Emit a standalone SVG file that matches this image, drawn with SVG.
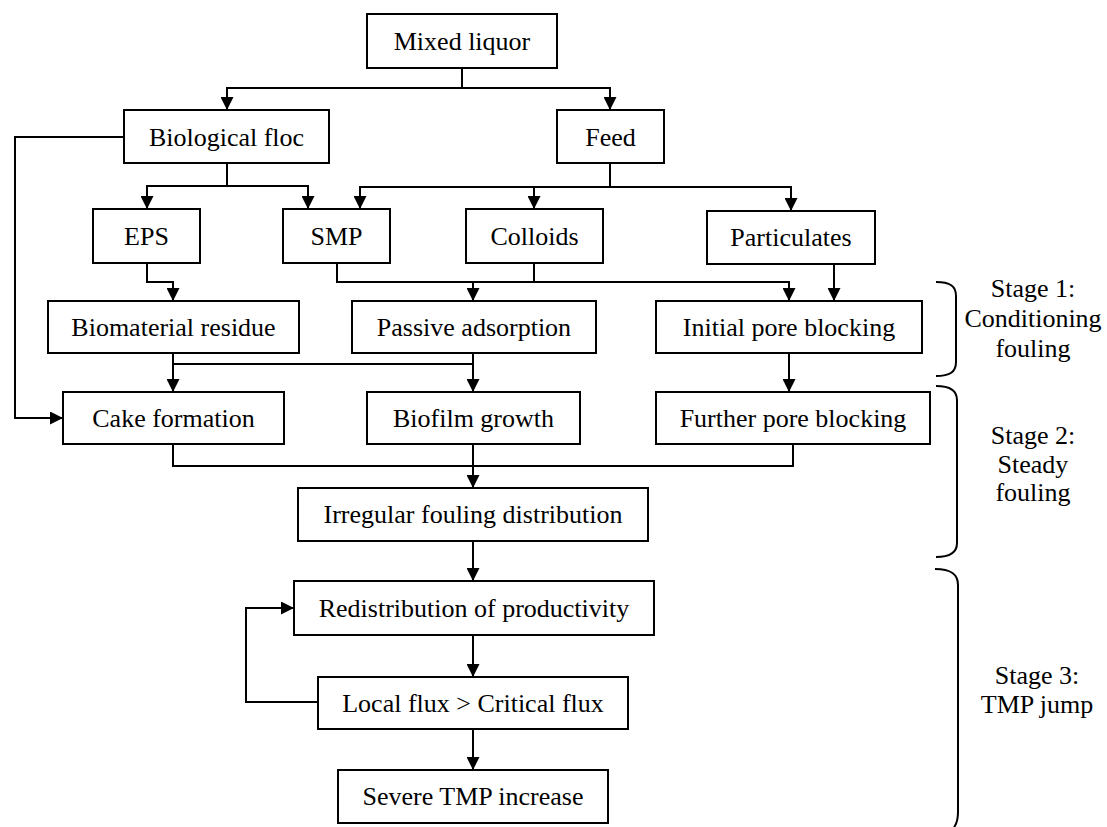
<svg xmlns="http://www.w3.org/2000/svg" width="1107" height="827" viewBox="0 0 1107 827">
<style>
rect.box{fill:#fff;stroke:#000;stroke-width:2}
text{font-family:"Liberation Serif","Times New Roman",serif;font-size:26px;fill:#000;text-anchor:middle}
.conn path{fill:none;stroke:#000;stroke-width:2}
.brace path{fill:none;stroke:#000;stroke-width:2}
</style>
<defs>
<marker id="arr" viewBox="0 0 14 14" markerUnits="userSpaceOnUse" markerWidth="14" markerHeight="13" refX="14" refY="7" orient="auto">
<path d="M0,0 L14,7 L0,14 z" fill="#000"/>
</marker>
</defs>
<rect width="1107" height="827" fill="#fff"/>
<g class="conn">
<path d="M462,68 V88 H227 V110" marker-end="url(#arr)"/>
<path d="M462,88 H610 V110" marker-end="url(#arr)"/>
<path d="M124,137 H15 V418 H63" marker-end="url(#arr)"/>
<path d="M227,163 V186 H147 V209" marker-end="url(#arr)"/>
<path d="M227,186 H308 V209" marker-end="url(#arr)"/>
<path d="M610,163 V187 H360 V209" marker-end="url(#arr)"/>
<path d="M534,187 V209" marker-end="url(#arr)"/>
<path d="M610,187 H791 V211" marker-end="url(#arr)"/>
<path d="M147,263 V282 H173 V301" marker-end="url(#arr)"/>
<path d="M337,263 V282 H473 V301" marker-end="url(#arr)"/>
<path d="M534,263 V282"/>
<path d="M473,282 H789 V301" marker-end="url(#arr)"/>
<path d="M834,264 V301" marker-end="url(#arr)"/>
<path d="M173,353 V392" marker-end="url(#arr)"/>
<path d="M173,364 H473"/>
<path d="M473,353 V392" marker-end="url(#arr)"/>
<path d="M789,353 V392" marker-end="url(#arr)"/>
<path d="M173,444 V466 H473"/>
<path d="M793,444 V466 H473"/>
<path d="M473,444 V488" marker-end="url(#arr)"/>
<path d="M473,541 V581" marker-end="url(#arr)"/>
<path d="M473,635 V677" marker-end="url(#arr)"/>
<path d="M473,729 V770" marker-end="url(#arr)"/>
<path d="M318,702 H246 V608 H294" marker-end="url(#arr)"/>
</g>
<g id="mixed-liquor"><rect class="box" x="367" y="14" width="190" height="54"/><text x="462" y="50">Mixed liquor</text></g>
<g id="biological-floc"><rect class="box" x="124" y="110" width="205" height="53"/><text x="226.5" y="146">Biological floc</text></g>
<g id="feed"><rect class="box" x="557" y="110" width="107" height="53"/><text x="610.5" y="146">Feed</text></g>
<g id="eps"><rect class="box" x="93" y="209" width="107" height="54"/><text x="146.5" y="245">EPS</text></g>
<g id="smp"><rect class="box" x="283" y="209" width="107" height="54"/><text x="336.5" y="245">SMP</text></g>
<g id="colloids"><rect class="box" x="466" y="209" width="137" height="54"/><text x="534.5" y="245">Colloids</text></g>
<g id="particulates"><rect class="box" x="707" y="211" width="168" height="53"/><text x="791" y="246">Particulates</text></g>
<g id="biomaterial-residue"><rect class="box" x="48" y="301" width="251" height="52"/><text x="173.5" y="336">Biomaterial residue</text></g>
<g id="passive-adsorption"><rect class="box" x="352" y="301" width="244" height="52"/><text x="474" y="336">Passive adsorption</text></g>
<g id="initial-pore-blocking"><rect class="box" x="656" y="301" width="266" height="52"/><text x="789" y="336">Initial pore blocking</text></g>
<g id="cake-formation"><rect class="box" x="63" y="392" width="221" height="52"/><text x="173.5" y="427">Cake formation</text></g>
<g id="biofilm-growth"><rect class="box" x="367" y="392" width="213" height="52"/><text x="473.5" y="427">Biofilm growth</text></g>
<g id="further-pore-blocking"><rect class="box" x="656" y="392" width="274" height="52"/><text x="793" y="427">Further pore blocking</text></g>
<g id="irregular-fouling"><rect class="box" x="298" y="488" width="350" height="53"/><text x="473" y="523">Irregular fouling distribution</text></g>
<g id="redistribution"><rect class="box" x="294" y="581" width="360" height="54"/><text x="474" y="617">Redistribution of productivity</text></g>
<g id="local-flux"><rect class="box" x="318" y="677" width="310" height="52"/><text x="473" y="712">Local flux &gt; Critical flux</text></g>
<g id="severe-tmp"><rect class="box" x="338" y="770" width="270" height="53"/><text x="473" y="805">Severe TMP increase</text></g>
<g class="brace">
<path d="M936,282 C950,282 956,286 956,296 V362 C956,372 950,376 936,376"/>
<path d="M936,386 C950,386 957,390 957,400 V543 C957,553 950,557 936,557"/>
<path d="M935,569 C951,569 958,574 958,585 V812 C958,824 954,830 944,836"/>
</g>
<g id="stage-1"><text x="1033" y="297">Stage 1:</text><text x="1033" y="327">Conditioning</text><text x="1033" y="357">fouling</text></g>
<g id="stage-2"><text x="1033" y="444">Stage 2:</text><text x="1033" y="473">Steady</text><text x="1033" y="501">fouling</text></g>
<g id="stage-3"><text x="1037" y="684">Stage 3:</text><text x="1037" y="713">TMP jump</text></g>
</svg>
